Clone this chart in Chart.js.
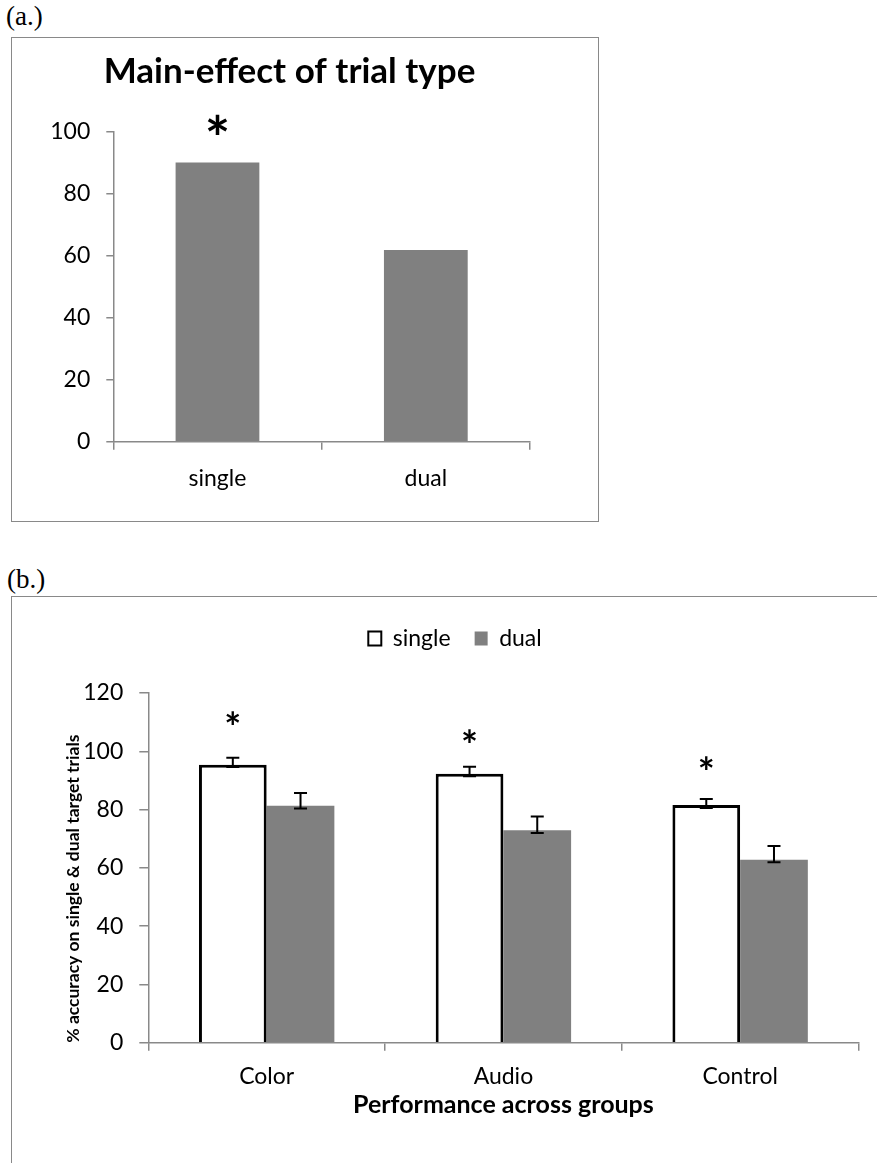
<!DOCTYPE html>
<html>
<head>
<meta charset="utf-8">
<script src="https://cdn.jsdelivr.net/npm/chart.js@4.4.1/dist/chart.umd.min.js"></script>
<style>
  html, body { margin: 0; padding: 0; background: #fff; width: 877px; height: 1163px; overflow: hidden; }
  .panel-label { position: absolute; font-family: 'Liberation Serif', 'Times New Roman', serif; font-size: 27px; line-height: 1; color: #000; }
  .frame { position: absolute; border: 1.5px solid #898989; box-sizing: border-box; }
  .box { position: absolute; }
</style>
</head>
<body>
<div class="panel-label" style="left:6px; top:3px;">(a.)</div>
<div class="frame" style="left:11px; top:37px; width:588px; height:485px;"></div>
<div class="box" style="left:49px; top:39px; width:548px; height:481px;"><canvas id="trialChart"></canvas></div>

<div class="panel-label" style="left:7px; top:566px;">(b.)</div>
<div class="frame" style="left:11px; top:596px; width:900px; height:700px;"></div>
<div class="box" style="left:13px; top:598px; width:864px; height:565px;"><canvas id="groupChart"></canvas></div>

<script>
/* ---------- data ---------- */
// (a) main effect of trial type
const trialTypes = ['single', 'dual'];
const trialAccuracy = [90.1, 61.8];
const trialStars = [101.6, null];      // where the asterisk sits (y value)

// (b) performance across groups
const groups = ['Color', 'Audio', 'Control'];
const singleAcc = [95.4, 92.3, 81.6];
const dualAcc = [81.3, 72.9, 62.8];
const singleErrLow = [94.6, 91.4, 80.5];
const singleErrHigh = [97.8, 94.7, 83.6];
const dualErrLow = [80.4, 72.0, 61.9];
const dualErrHigh = [85.7, 77.6, 67.5];
const groupStars = [110.9, 104.7, 95.2];

const AXIS_GREY = '#898989';
const BAR_GREY = '#808080';

Chart.defaults.font.family = 'Lato, "Open Sans", sans-serif';
Chart.defaults.color = '#000';

/* ---------- small plugins ---------- */
// whiskers drawn from the errLow / errHigh arrays on each dataset
const errorBars = {
  id: 'errorBars',
  afterDatasetsDraw(chart) {
    const ctx = chart.ctx;
    const yScale = chart.scales.y;
    chart.data.datasets.forEach((ds, i) => {
      if (!ds.errLow) return;
      chart.getDatasetMeta(i).data.forEach((bar, j) => {
        const top = yScale.getPixelForValue(ds.errHigh[j]);
        const bottom = yScale.getPixelForValue(ds.errLow[j]);
        ctx.save();
        ctx.strokeStyle = '#000';
        ctx.lineWidth = 2;
        ctx.beginPath();
        ctx.moveTo(bar.x, top); ctx.lineTo(bar.x, bottom);
        ctx.moveTo(bar.x - 6.5, top); ctx.lineTo(bar.x + 6.5, top);
        ctx.moveTo(bar.x - 6.5, bottom); ctx.lineTo(bar.x + 6.5, bottom);
        ctx.stroke();
        ctx.restore();
      });
    });
  }
};

// asterisk over the first dataset's bars
function starMarks(values, size, weight) {
  return {
    id: 'starMarks',
    afterDatasetsDraw(chart) {
      const ctx = chart.ctx;
      const yScale = chart.scales.y;
      const bars = chart.getDatasetMeta(0).data;
      ctx.save();
      ctx.fillStyle = '#000';
      ctx.font = weight + ' ' + size + 'px Lato, sans-serif';
      ctx.textAlign = 'center';
      ctx.textBaseline = 'alphabetic';
      values.forEach((v, j) => {
        if (v == null) return;
        ctx.fillText('*', bars[j].x, yScale.getPixelForValue(v) + size * 0.55);
      });
      ctx.restore();
    }
  };
}

/* ---------- (a) main effect ---------- */
// canvas starts a bit right of the frame so the title sits nearer the middle
new Chart(document.getElementById('trialChart'), {
  type: 'bar',
  data: {
    labels: trialTypes,
    datasets: [{
      data: trialAccuracy,
      backgroundColor: BAR_GREY,
      borderWidth: 0,
      barPercentage: 0.402,
      categoryPercentage: 1
    }]
  },
  options: {
    responsive: true,
    maintainAspectRatio: false,
    animation: false,
    layout: { padding: { left: 0, right: 67, top: 0, bottom: 0 } },
    plugins: {
      legend: { display: false },
      tooltip: { enabled: false },
      title: {
        display: true,
        text: 'Main-effect of trial type',
        font: { size: 35, weight: 'bold' },
        padding: { top: 12, bottom: 38.7 }
      }
    },
    scales: {
      x: {
        grid: { drawOnChartArea: false, color: AXIS_GREY, tickLength: 8, lineWidth: 1.5 },
        border: { color: AXIS_GREY, width: 1.5 },
        ticks: { font: { size: 23 }, padding: 15 },
        afterFit: (s) => { s.height = 78.3; }
      },
      y: {
        min: 0, max: 100,
        ticks: { stepSize: 20, font: { size: 23 }, padding: 16 },
        grid: { drawOnChartArea: false, color: AXIS_GREY, tickLength: 7, lineWidth: 1.5 },
        border: { color: AXIS_GREY, width: 1.5 },
        afterFit: (s) => { s.width = 64.3; }
      }
    }
  },
  plugins: [starMarks(trialStars, 60, 'bold')]
});

/* ---------- (b) across groups ---------- */
new Chart(document.getElementById('groupChart'), {
  type: 'bar',
  data: {
    labels: groups,
    datasets: [{
      label: 'single',
      data: singleAcc,
      errLow: singleErrLow,
      errHigh: singleErrHigh,
      backgroundColor: '#fff',
      borderColor: '#000',
      borderWidth: 3,
      barPercentage: 1,
      categoryPercentage: 0.572
    }, {
      label: 'dual',
      data: dualAcc,
      errLow: dualErrLow,
      errHigh: dualErrHigh,
      backgroundColor: BAR_GREY,
      borderWidth: 0,
      barPercentage: 1,
      categoryPercentage: 0.572
    }]
  },
  options: {
    responsive: true,
    maintainAspectRatio: false,
    animation: false,
    layout: { padding: { left: 38.5, right: 18.5, top: 5, bottom: 0 } },
    plugins: {
      tooltip: { enabled: false },
      legend: {
        position: 'top',
        weight: 3000,
        labels: {
          boxWidth: 13,
          boxHeight: 14,
          padding: 24,
          font: { size: 23 },
          generateLabels: (chart) => Chart.defaults.plugins.legend.labels.generateLabels(chart)
            .map(item => Object.assign(item, { lineWidth: item.lineWidth ? 2 : 0 }))
        }
      },
      // empty title only keeps the gap between legend and plot
      title: { display: true, text: '', font: { size: 10 }, padding: { top: 0, bottom: 21 } }
    },
    scales: {
      x: {
        grid: { drawOnChartArea: false, color: AXIS_GREY, tickLength: 8, lineWidth: 1.5 },
        border: { color: AXIS_GREY, width: 1.5 },
        ticks: { font: { size: 23 }, padding: 12 },
        title: {
          display: true,
          text: 'Performance across groups',
          font: { size: 25, weight: 'bold' },
          padding: { top: 0, bottom: 43 }
        },
        afterFit: (s) => { s.height = 120.3; }
      },
      y: {
        min: 0, max: 120,
        ticks: { stepSize: 20, font: { size: 23 }, padding: 16 },
        grid: { drawOnChartArea: false, color: AXIS_GREY, tickLength: 9, lineWidth: 1.5 },
        border: { color: AXIS_GREY, width: 1.5 },
        title: {
          display: true,
          text: '% accuracy on single & dual target trials',
          align: 'start',
          font: { size: 17.5, weight: 'bold' },
          padding: { top: 11, bottom: 0 }
        },
        afterFit: (s) => { s.width = 96.8; }
      }
    }
  },
  plugins: [errorBars, starMarks(groupStars, 40, 'bold')]
});
</script>
</body>
</html>
